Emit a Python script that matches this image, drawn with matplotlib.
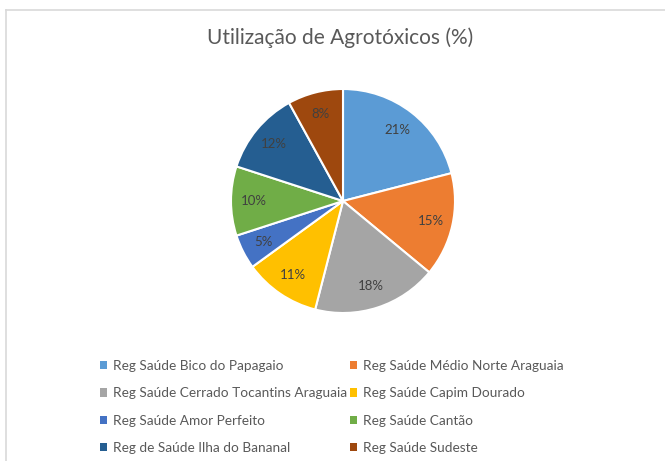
import matplotlib
matplotlib.use("Agg")
import matplotlib.pyplot as plt
from matplotlib.patches import Patch
from matplotlib.lines import Line2D

categories = [
    "Reg Saúde Bico do Papagaio",
    "Reg Saúde Médio Norte Araguaia",
    "Reg Saúde Cerrado Tocantins Araguaia",
    "Reg Saúde Capim Dourado",
    "Reg Saúde Amor Perfeito",
    "Reg Saúde Cantão",
    "Reg de Saúde Ilha do Bananal",
    "Reg Saúde Sudeste",
]
values = [21, 15, 18, 11, 5, 10, 12, 8]
colors = ["#5B9BD5", "#ED7D31", "#A5A5A5", "#FFC000",
          "#4472C4", "#70AD47", "#255E91", "#9E480E"]
title = "Utilização de Agrotóxicos (%)"

W, H = 665, 461
fig = plt.figure(figsize=(W / 100, H / 100), dpi=100)
fig.patch.set_facecolor("white")
plt.rcParams["font.family"] = ["Lato", "DejaVu Sans"]

# frame lines (left and top, cut off on right/bottom)
fig.add_artist(Line2D([6 / W, 6 / W], [0, 1 - 10 / H], transform=fig.transFigure,
                      color="#D9D9D9", lw=1.2))
fig.add_artist(Line2D([6 / W, 1], [1 - 10 / H, 1 - 10 / H], transform=fig.transFigure,
                      color="#D9D9D9", lw=1.2))

cx, cy, r = 343, 201, 112
ax = fig.add_axes([(cx - r) / W, (H - cy - r) / H, 2 * r / W, 2 * r / H])
wedges, texts, autotexts = ax.pie(
    values, colors=colors, startangle=90, counterclock=False,
    autopct=lambda p: f"{p:.0f}%", pctdistance=0.8,
    wedgeprops=dict(edgecolor="white", linewidth=1.5),
    textprops=dict(color="#404040", fontsize=9.5),
)
ax.set_xlim(-1, 1)
ax.set_ylim(-1, 1)
ax.set_aspect("equal")
ax.axis("off")

fig.text(340 / W, 1 - 38 / H, title, ha="center", va="center",
         fontsize=15, color="#595959")

order = [0, 2, 4, 6, 1, 3, 5, 7]
handles = [Patch(facecolor=colors[i], edgecolor="none") for i in order]
labels = [categories[i] for i in order]
leg = fig.legend(handles, labels, ncol=2, loc="upper left",
                 bbox_to_anchor=(100 / W, 1 - 360 / H), frameon=False,
                 handlelength=0.55, handleheight=0.55, handletextpad=0.4,
                 columnspacing=0.2, labelspacing=1.13, fontsize=9.8,
                 labelcolor="#595959", borderpad=0, borderaxespad=0)

fig.savefig("out.png", dpi=100, facecolor="white")
